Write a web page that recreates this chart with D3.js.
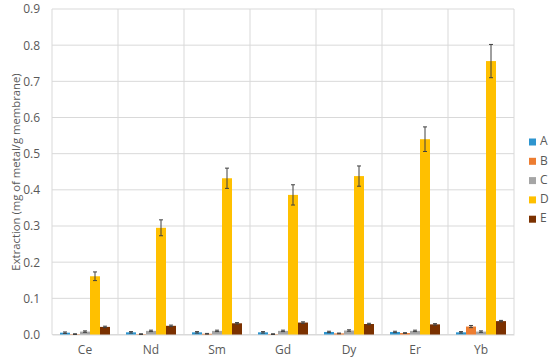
<!DOCTYPE html>
<html><head><meta charset="utf-8">
<script src="https://cdn.jsdelivr.net/npm/d3@7"></script>
<style>body{margin:0;background:#fff}svg{display:block}text{font-family:"Open Sans",sans-serif;fill:#595959}</style>
</head><body>
<script>
const categories = ["Ce","Nd","Sm","Gd","Dy","Er","Yb"];
const seriesNames = ["A","B","C","D","E"];
const seriesColors = ["#2E95CF","#ED7D31","#A5A5A5","#FFC000","#7B3100"];
const valuesA = [0.005,0.006,0.006,0.006,0.007,0.007,0.006];
const valuesB = [0.001,0.001,0.002,0.001,0.003,0.004,0.022];
const valuesC = [0.008,0.010,0.010,0.010,0.011,0.010,0.008];
const valuesD = [0.161,0.295,0.432,0.386,0.438,0.540,0.756];
const valuesE = [0.021,0.024,0.031,0.033,0.029,0.028,0.037];
const errA = [0.002,0.002,0.002,0.002,0.002,0.002,0.002];
const errB = [0.001,0.001,0.001,0.001,0.001,0.001,0.003];
const errC = [0.002,0.002,0.002,0.002,0.002,0.002,0.002];
const errD = [0.012,0.022,0.028,0.028,0.028,0.034,0.046];
const errE = [0.002,0.002,0.002,0.002,0.002,0.002,0.002];
const yTicks = [0,0.1,0.2,0.3,0.4,0.5,0.6,0.7,0.8,0.9];
const yTitle = "Extraction (mg of metal/g membrane)";

const values = [valuesA,valuesB,valuesC,valuesD,valuesE];
const errs = [errA,errB,errC,errD,errE];

const W=550,H=360, L=52, R=514, T=9, B=334.5;
const svg=d3.select("body").append("svg").attr("width",W).attr("height",H);
const x0=d3.scaleBand().domain(categories).range([L,R]).padding(0);
const x1=d3.scaleBand().domain(seriesNames).range([0,x0.bandwidth()]).paddingOuter(0.8).paddingInner(0);
const y=d3.scaleLinear().domain([0,0.9]).range([B,T]);

// gridlines
svg.append("g").selectAll("line").data(yTicks).join("line")
  .attr("x1",L).attr("x2",R).attr("y1",d=>y(d)).attr("y2",d=>y(d))
  .attr("stroke","#D9D9D9").attr("stroke-width",1);
const bounds = categories.map(c=>x0(c)).concat([R]);
svg.append("g").selectAll("line").data(bounds).join("line")
  .attr("x1",d=>d).attr("x2",d=>d).attr("y1",T).attr("y2",B)
  .attr("stroke","#D9D9D9").attr("stroke-width",1);

// y axis labels
const yAxis=d3.axisLeft(y).tickValues(yTicks).tickFormat(d3.format(".1f")).tickSize(0).tickPadding(12);
const ga=svg.append("g").attr("transform",`translate(${L},0)`).call(yAxis);
ga.select(".domain").remove();
ga.selectAll("text").style("font-size","12px").style("fill","#595959").style("font-family","'Open Sans',sans-serif");

// x axis labels
const xAxis=d3.axisBottom(x0).tickSize(0).tickPadding(11);
const gx=svg.append("g").attr("transform",`translate(0,${B})`).call(xAxis);
gx.select(".domain").attr("stroke","#D9D9D9");
gx.selectAll("text").style("font-size","12px").style("fill","#595959").style("font-family","'Open Sans',sans-serif");

// bars
const data=[];
categories.forEach((c,i)=>seriesNames.forEach((s,j)=>data.push({c,s,j,v:values[j][i],e:errs[j][i]})));
const bars=svg.append("g");
bars.selectAll("rect").data(data).join("rect")
  .attr("x",d=>x0(d.c)+x1(d.s)).attr("width",x1.bandwidth())
  .attr("y",d=>y(d.v)).attr("height",d=>B-y(d.v))
  .attr("fill",d=>seriesColors[d.j]);
// error bars
const eg=svg.append("g").attr("stroke","#404040").attr("stroke-width",1);
data.forEach(d=>{
  const cx=x0(d.c)+x1(d.s)+x1.bandwidth()/2;
  eg.append("line").attr("x1",cx).attr("x2",cx).attr("y1",y(d.v+d.e)).attr("y2",y(d.v-d.e));
  eg.append("line").attr("x1",cx-2).attr("x2",cx+2).attr("y1",y(d.v+d.e)).attr("y2",y(d.v+d.e));
  eg.append("line").attr("x1",cx-2).attr("x2",cx+2).attr("y1",y(d.v-d.e)).attr("y2",y(d.v-d.e));
});

// y title
svg.append("text").attr("transform",`translate(17,172) rotate(-90)`)
  .attr("text-anchor","middle").attr("dominant-baseline","middle")
  .style("font-size","11.3px").text(yTitle);

// legend
const lg=svg.append("g").attr("transform","translate(529,142)");
seriesNames.forEach((s,j)=>{
  const g=lg.append("g").attr("transform",`translate(0,${j*19.3})`);
  g.append("rect").attr("x",0).attr("y",-3.5).attr("width",7).attr("height",7).attr("fill",seriesColors[j]);
  g.append("text").attr("x",11).attr("y",0).attr("dominant-baseline","middle").style("font-size","12px").text(s);
});
</script>
</body></html>
